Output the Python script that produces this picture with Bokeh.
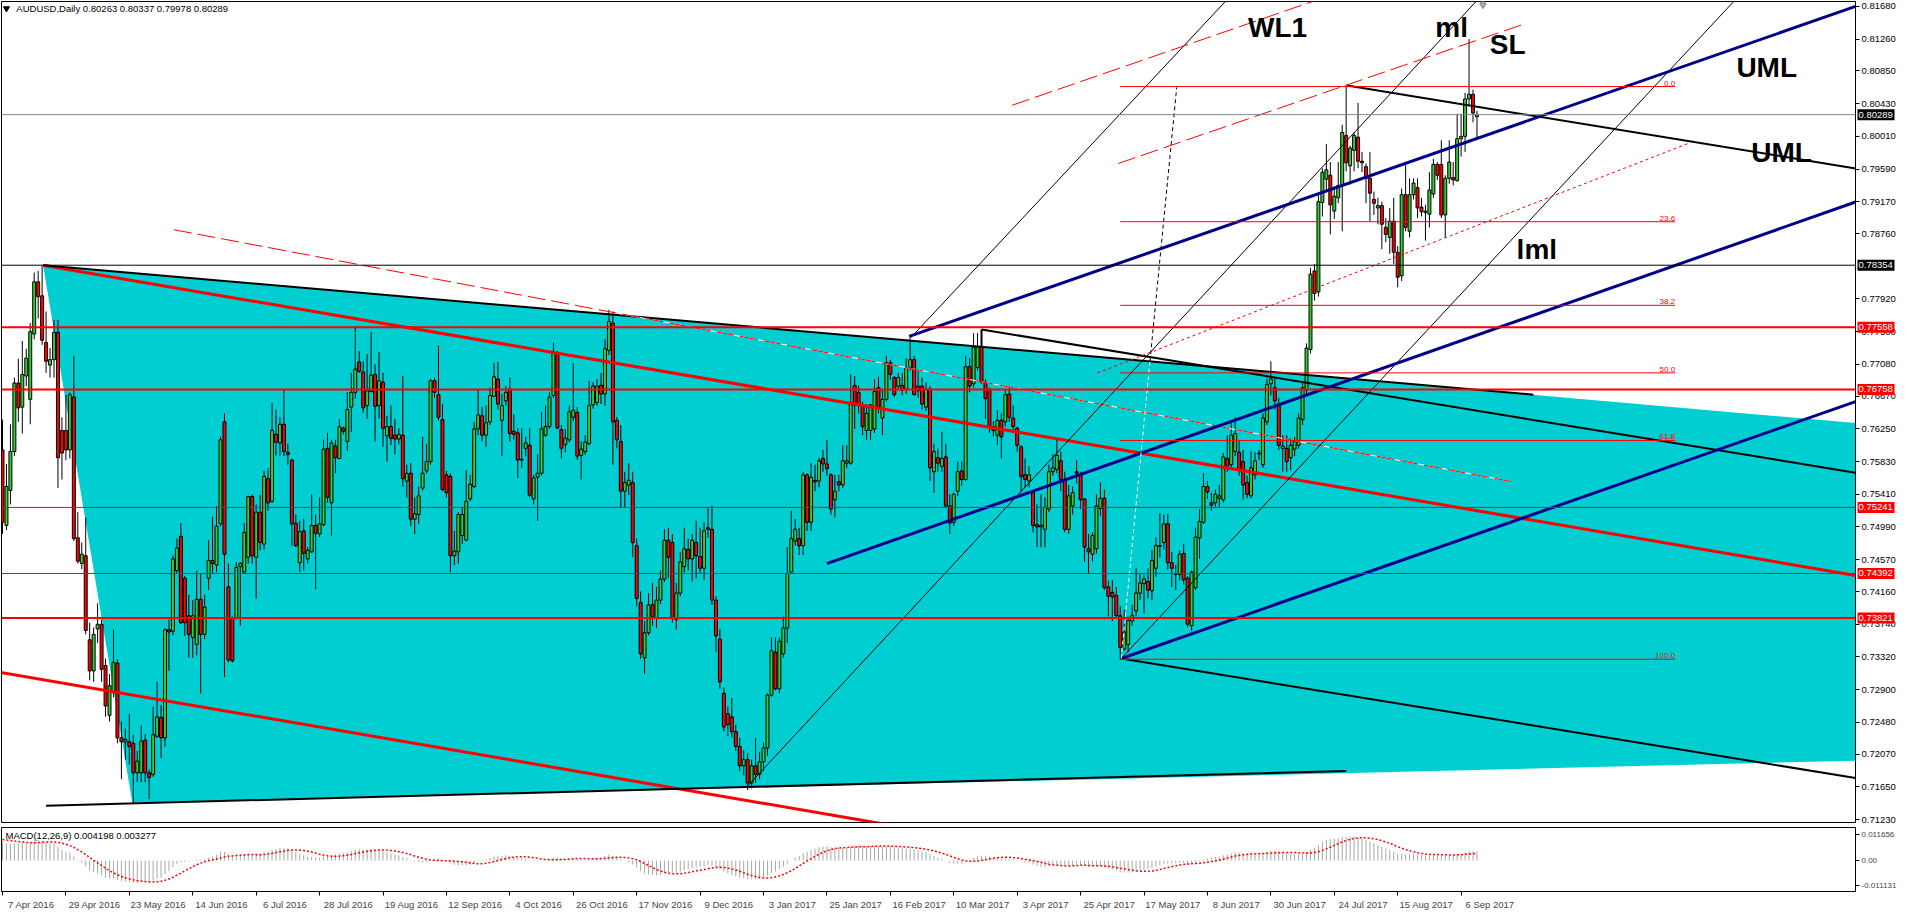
import numpy as np
from bokeh.plotting import figure
from bokeh.layouts import column, row
from bokeh.models import (ColumnDataSource, Span, Label, FixedTicker, LinearAxis,
                          Range1d, PrintfTickFormatter)
from bokeh.core.properties import value
from bokeh.embed import file_html
from bokeh.resources import INLINE

# ---------------- data ----------------
symbol = "AUDUSD,Daily"
macd_title = "MACD(12,26,9) 0.004198 0.003277"
date_labels = ["7 Apr 2016", "29 Apr 2016", "23 May 2016", "14 Jun 2016", "6 Jul 2016",
               "28 Jul 2016", "19 Aug 2016", "12 Sep 2016", "4 Oct 2016", "26 Oct 2016",
               "17 Nov 2016", "9 Dec 2016", "3 Jan 2017", "25 Jan 2017", "16 Feb 2017",
               "10 Mar 2017", "3 Apr 2017", "25 Apr 2017", "17 May 2017", "8 Jun 2017",
               "30 Jun 2017", "24 Jul 2017", "15 Aug 2017", "6 Sep 2017"]
date_label_step = 16  # bars between date labels

opens = [
 0.7598,0.7501,0.7546,0.7596,0.7684,0.7653,0.7693,0.7663,0.7747,0.7814,
 0.7796,0.7736,0.7707,0.7714,0.7749,0.7623,0.7623,0.7598,0.7666,0.7485,
 0.7452,0.7462,0.7354,0.7314,0.7368,0.7374,0.7321,0.7257,0.7286,0.7324,
 0.7228,0.7223,0.7223,0.7221,0.7183,0.7183,0.7225,0.7183,0.7181,0.7230,
 0.7254,0.7228,0.7367,0.7365,0.7443,0.7487,0.7433,0.7385,0.7357,0.7348,
 0.7406,0.7361,0.7433,0.7456,0.7450,0.7503,0.7634,0.7422,0.7382,0.7382,
 0.7448,0.7441,0.7460,0.7538,0.7460,0.7518,0.7477,0.7561,0.7532,0.7618,
 0.7607,0.7631,0.7595,0.7585,0.7504,0.7453,0.7494,0.7458,0.7467,0.7501,
 0.7490,0.7502,0.7600,0.7530,0.7603,0.7587,0.7626,0.7609,0.7653,0.7672,
 0.7711,0.7698,0.7655,0.7673,0.7695,0.7655,0.7685,0.7616,0.7628,0.7617,
 0.7612,0.7617,0.7558,0.7568,0.7509,0.7515,0.7549,0.7571,0.7583,0.7687,
 0.7669,0.7637,0.7566,0.7564,0.7462,0.7467,0.7488,0.7482,0.7535,0.7551,
 0.7625,0.7642,0.7617,0.7634,0.7667,0.7689,0.7636,0.7661,0.7676,0.7622,
 0.7620,0.7586,0.7600,0.7604,0.7535,0.7563,0.7568,0.7617,0.7628,0.7668,
 0.7722,0.7624,0.7605,0.7611,0.7640,0.7646,0.7591,0.7596,0.7606,0.7656,
 0.7659,0.7681,0.7670,0.7726,0.7761,0.7636,0.7609,0.7545,0.7553,0.7556,
 0.7475,0.7402,0.7331,0.7363,0.7399,0.7382,0.7405,0.7432,0.7482,0.7479,
 0.7380,0.7414,0.7448,0.7470,0.7458,0.7479,0.7461,0.7446,0.7498,0.7496,
 0.7405,0.7355,0.7285,0.7259,0.7255,0.7236,0.7217,0.7192,0.7200,0.7170,
 0.7192,0.7181,0.7197,0.7215,0.7283,0.7338,0.7291,0.7336,0.7369,0.7441,
 0.7481,0.7484,0.7475,0.7566,0.7505,0.7559,0.7558,0.7587,0.7580,0.7566,
 0.7534,0.7557,0.7553,0.7581,0.7581,0.7681,0.7672,0.7656,0.7623,0.7623,
 0.7625,0.7678,0.7639,0.7663,0.7710,0.7691,0.7680,0.7681,0.7676,0.7704,
 0.7714,0.7680,0.7680,0.7653,0.7676,0.7570,0.7588,0.7577,0.7589,0.7526,
 0.7505,0.7545,0.7571,0.7560,0.7705,0.7683,0.7704,0.7731,0.7685,0.7676,
 0.7628,0.7617,0.7636,0.7634,0.7670,0.7639,0.7626,0.7602,0.7566,0.7558,
 0.7543,0.7502,0.7499,0.7496,0.7522,0.7570,0.7573,0.7584,0.7560,0.7496,
 0.7526,0.7570,0.7567,0.7535,0.7471,0.7464,0.7471,0.7523,0.7536,0.7422,
 0.7415,0.7411,0.7385,0.7342,0.7348,0.7378,0.7391,0.7414,0.7426,0.7429,
 0.7417,0.7446,0.7474,0.7479,0.7503,0.7453,0.7439,0.7438,0.7465,0.7433,
 0.7372,0.7421,0.7485,0.7505,0.7551,0.7530,0.7530,0.7536,0.7534,0.7587,
 0.7579,0.7596,0.7595,0.7583,0.7556,0.7539,0.7566,0.7594,0.7579,0.7634,
 0.7683,0.7678,0.7657,0.7600,0.7600,0.7588,0.7599,0.7604,0.7637,0.7675,
 0.7727,0.7828,0.7801,0.7916,0.7946,0.7951,0.7905,0.7922,0.7939,0.8002,
 0.7963,0.7983,0.8000,0.7969,0.7962,0.7947,0.7920,0.7909,0.7912,0.7884,
 0.7871,0.7892,0.7852,0.7822,0.7926,0.7879,0.7926,0.7935,0.7910,0.7903,
 0.7901,0.7927,0.7965,0.7965,0.7900,0.7947,0.7948,0.7944,0.7998,0.8001,
 0.8049,0.8055,0.80263]
highs = [
 0.7637,0.7580,0.7631,0.7691,0.7715,0.7738,0.7728,0.7761,0.7826,0.7828,
 0.7835,0.7776,0.7729,0.7765,0.7765,0.7640,0.7669,0.7672,0.7719,0.7518,
 0.7479,0.7511,0.7376,0.7370,0.7401,0.7380,0.7330,0.7310,0.7367,0.7329,
 0.7249,0.7240,0.7259,0.7232,0.7211,0.7244,0.7233,0.7187,0.7268,0.7300,
 0.7270,0.7369,0.7380,0.7462,0.7484,0.7504,0.7436,0.7412,0.7405,0.7443,
 0.7440,0.7412,0.7482,0.7512,0.7526,0.7615,0.7645,0.7452,0.7384,0.7454,
 0.7454,0.7504,0.7539,0.7541,0.7528,0.7540,0.7571,0.7575,0.7658,0.7650,
 0.7640,0.7676,0.7606,0.7587,0.7515,0.7507,0.7509,0.7473,0.7541,0.7515,
 0.7537,0.7611,0.7620,0.7611,0.7611,0.7638,0.7628,0.7672,0.7697,0.7757,
 0.7725,0.7712,0.7721,0.7750,0.7708,0.7724,0.7697,0.7642,0.7655,0.7638,
 0.7626,0.7693,0.7579,0.7581,0.7537,0.7551,0.7615,0.7606,0.7689,0.7691,
 0.7732,0.7657,0.7571,0.7568,0.7494,0.7518,0.7525,0.7572,0.7566,0.7634,
 0.7676,0.7653,0.7655,0.7678,0.7710,0.7711,0.7670,0.7680,0.7691,0.7644,
 0.7626,0.7626,0.7615,0.7626,0.7566,0.7592,0.7647,0.7655,0.7672,0.7736,
 0.7725,0.7630,0.7625,0.7655,0.7710,0.7653,0.7609,0.7617,0.7687,0.7685,
 0.7689,0.7697,0.7740,0.7778,0.7776,0.7640,0.7630,0.7570,0.7581,0.7570,
 0.7484,0.7416,0.7378,0.7414,0.7427,0.7422,0.7443,0.7496,0.7498,0.7490,
 0.7427,0.7467,0.7498,0.7484,0.7490,0.7507,0.7498,0.7505,0.7524,0.7526,
 0.7410,0.7368,0.7293,0.7268,0.7279,0.7245,0.7228,0.7212,0.7208,0.7200,
 0.7228,0.7210,0.7222,0.7285,0.7357,0.7357,0.7357,0.7384,0.7473,0.7520,
 0.7509,0.7498,0.7570,0.7568,0.7581,0.7579,0.7588,0.7598,0.7611,0.7568,
 0.7566,0.7566,0.7604,0.7604,0.7695,0.7693,0.7681,0.7660,0.7657,0.7657,
 0.7689,0.7692,0.7676,0.7719,0.7714,0.7693,0.7697,0.7697,0.7716,0.7740,
 0.7719,0.7700,0.7691,0.7685,0.7680,0.7606,0.7600,0.7621,0.7606,0.7541,
 0.7543,0.7583,0.7583,0.7719,0.7716,0.7748,0.7748,0.7752,0.7689,0.7678,
 0.7635,0.7649,0.7645,0.7676,0.7680,0.7655,0.7628,0.7604,0.7587,0.7577,
 0.7545,0.7528,0.7541,0.7537,0.7579,0.7592,0.7613,0.7596,0.7570,0.7553,
 0.7551,0.7585,0.7570,0.7536,0.7490,0.7492,0.7541,0.7556,0.7547,0.7430,
 0.7431,0.7422,0.7397,0.7393,0.7384,0.7399,0.7446,0.7439,0.7437,0.7446,
 0.7469,0.7486,0.7517,0.7515,0.7516,0.7467,0.7450,0.7469,0.7477,0.7436,
 0.7443,0.7498,0.7522,0.7568,0.7558,0.7543,0.7547,0.7553,0.7594,0.7617,
 0.7634,0.7640,0.7610,0.7598,0.7565,0.7596,0.7595,0.7598,0.7645,0.7690,
 0.7712,0.7690,0.7665,0.7617,0.7617,0.7613,0.7615,0.7645,0.7685,0.7735,
 0.7832,0.7837,0.7926,0.7960,0.7991,0.7968,0.7937,0.7968,0.8016,0.8066,
 0.7989,0.8006,0.8044,0.7981,0.7966,0.7981,0.7930,0.7922,0.7917,0.7896,
 0.7909,0.7922,0.7860,0.7934,0.7964,0.7947,0.7947,0.7947,0.7922,0.7913,
 0.7955,0.7972,0.7968,0.7996,0.7951,0.7996,0.7968,0.8030,0.8030,0.8057,
 0.8126,0.8061,0.80337]
lows = [
 0.7490,0.7495,0.7528,0.7590,0.7634,0.7619,0.7680,0.7631,0.7740,0.7767,
 0.7733,0.7697,0.7691,0.7691,0.7549,0.7560,0.7585,0.7587,0.7481,0.7452,
 0.7445,0.7361,0.7302,0.7300,0.7350,0.7300,0.7255,0.7249,0.7280,0.7221,
 0.7175,0.7200,0.7194,0.7145,0.7171,0.7171,0.7171,0.7149,0.7178,0.7228,
 0.7202,0.7217,0.7314,0.7360,0.7440,0.7374,0.7359,0.7331,0.7331,0.7334,
 0.7285,0.7355,0.7418,0.7440,0.7441,0.7500,0.7306,0.7325,0.7325,0.7380,
 0.7372,0.7439,0.7452,0.7452,0.7407,0.7469,0.7470,0.7520,0.7530,0.7591,
 0.7590,0.7590,0.7579,0.7475,0.7473,0.7441,0.7443,0.7452,0.7466,0.7419,
 0.7486,0.7500,0.7530,0.7488,0.7568,0.7586,0.7618,0.7597,0.7621,0.7664,
 0.7697,0.7646,0.7638,0.7672,0.7609,0.7638,0.7602,0.7583,0.7604,0.7592,
 0.7605,0.7551,0.7537,0.7500,0.7490,0.7503,0.7546,0.7568,0.7579,0.7665,
 0.7636,0.7545,0.7537,0.7441,0.7450,0.7452,0.7477,0.7481,0.7532,0.7549,
 0.7617,0.7609,0.7602,0.7630,0.7666,0.7650,0.7590,0.7655,0.7609,0.7611,
 0.7562,0.7575,0.7590,0.7537,0.7528,0.7507,0.7565,0.7615,0.7625,0.7665,
 0.7625,0.7587,0.7595,0.7608,0.7635,0.7585,0.7560,0.7592,0.7604,0.7651,
 0.7655,0.7657,0.7655,0.7720,0.7579,0.7600,0.7524,0.7524,0.7540,0.7460,
 0.7397,0.7329,0.7310,0.7360,0.7372,0.7369,0.7400,0.7428,0.7433,0.7376,
 0.7367,0.7410,0.7441,0.7443,0.7429,0.7433,0.7439,0.7431,0.7485,0.7399,
 0.7338,0.7291,0.7236,0.7230,0.7228,0.7211,0.7185,0.7180,0.7161,0.7163,
 0.7170,0.7175,0.7185,0.7205,0.7281,0.7289,0.7285,0.7331,0.7350,0.7439,
 0.7475,0.7463,0.7463,0.7494,0.7494,0.7545,0.7550,0.7570,0.7565,0.7515,
 0.7511,0.7545,0.7549,0.7575,0.7579,0.7625,0.7645,0.7617,0.7611,0.7611,
 0.7620,0.7645,0.7617,0.7660,0.7688,0.7666,0.7675,0.7668,0.7670,0.7700,
 0.7668,0.7665,0.7650,0.7648,0.7558,0.7543,0.7570,0.7570,0.7524,0.7490,
 0.7500,0.7539,0.7552,0.7558,0.7672,0.7678,0.7700,0.7683,0.7638,0.7620,
 0.7615,0.7604,0.7587,0.7628,0.7634,0.7620,0.7596,0.7545,0.7550,0.7550,
 0.7492,0.7473,0.7473,0.7473,0.7518,0.7565,0.7568,0.7545,0.7492,0.7490,
 0.7515,0.7555,0.7522,0.7454,0.7439,0.7455,0.7465,0.7513,0.7418,0.7384,
 0.7378,0.7382,0.7329,0.7340,0.7338,0.7372,0.7384,0.7405,0.7388,0.7407,
 0.7405,0.7435,0.7460,0.7470,0.7444,0.7422,0.7418,0.7430,0.7425,0.7370,
 0.7365,0.7418,0.7458,0.7503,0.7535,0.7520,0.7525,0.7524,0.7530,0.7570,
 0.7575,0.7590,0.7565,0.7534,0.7536,0.7536,0.7560,0.7585,0.7575,0.7630,
 0.7668,0.7650,0.7598,0.7570,0.7570,0.7572,0.7590,0.7600,0.7630,0.7670,
 0.7722,0.7790,0.7795,0.7898,0.7930,0.7875,0.7895,0.7915,0.7879,0.7956,
 0.7939,0.7956,0.7960,0.7955,0.7915,0.7892,0.7900,0.7888,0.7856,0.7865,
 0.7850,0.7837,0.7807,0.7815,0.7879,0.7871,0.7920,0.7896,0.7898,0.7867,
 0.7884,0.7922,0.7945,0.7896,0.7871,0.7940,0.7938,0.7943,0.7975,0.7981,
 0.8040,0.8019,0.79978]
closes = [
 0.7505,0.7551,0.7596,0.7684,0.7652,0.7695,0.7716,0.7750,0.7814,0.7795,
 0.7739,0.7712,0.7714,0.7749,0.7588,0.7594,0.7598,0.7669,0.7484,0.7455,
 0.7464,0.7366,0.7314,0.7361,0.7374,0.7316,0.7269,0.7295,0.7325,0.7228,
 0.7223,0.7226,0.7217,0.7183,0.7198,0.7224,0.7183,0.7177,0.7232,0.7255,
 0.7228,0.7367,0.7364,0.7458,0.7472,0.7376,0.7376,0.7361,0.7385,0.7406,
 0.7361,0.7396,0.7456,0.7452,0.7500,0.7611,0.7464,0.7328,0.7327,0.7447,
 0.7452,0.7492,0.7538,0.7462,0.7518,0.7479,0.7564,0.7530,0.7623,0.7608,
 0.7631,0.7596,0.7592,0.7503,0.7475,0.7493,0.7465,0.7469,0.7501,0.7491,
 0.7503,0.7599,0.7537,0.7607,0.7588,0.7628,0.7622,0.7650,0.7672,0.7702,
 0.7699,0.7652,0.7674,0.7694,0.7654,0.7687,0.7626,0.7628,0.7613,0.7612,
 0.7618,0.7561,0.7568,0.7509,0.7516,0.7539,0.7568,0.7583,0.7687,0.7672,
 0.7640,0.7547,0.7543,0.7462,0.7468,0.7515,0.7515,0.7532,0.7554,0.7625,
 0.7643,0.7617,0.7633,0.7668,0.7692,0.7657,0.7655,0.7672,0.7619,0.7618,
 0.7585,0.7585,0.7607,0.7540,0.7562,0.7568,0.7625,0.7628,0.7666,0.7723,
 0.7626,0.7600,0.7613,0.7647,0.7649,0.7590,0.7599,0.7608,0.7655,0.7680,
 0.7680,0.7670,0.7728,0.7763,0.7634,0.7611,0.7545,0.7556,0.7559,0.7479,
 0.7407,0.7336,0.7363,0.7399,0.7384,0.7405,0.7432,0.7482,0.7460,0.7382,
 0.7414,0.7454,0.7471,0.7458,0.7482,0.7462,0.7446,0.7494,0.7496,0.7405,
 0.7359,0.7300,0.7242,0.7245,0.7236,0.7217,0.7192,0.7200,0.7170,0.7192,
 0.7181,0.7197,0.7215,0.7283,0.7340,0.7291,0.7352,0.7369,0.7439,0.7484,
 0.7496,0.7475,0.7566,0.7505,0.7563,0.7557,0.7584,0.7580,0.7574,0.7522,
 0.7545,0.7553,0.7584,0.7584,0.7659,0.7655,0.7655,0.7628,0.7645,0.7656,
 0.7673,0.7653,0.7663,0.7710,0.7695,0.7669,0.7691,0.7675,0.7704,0.7714,
 0.7669,0.7674,0.7657,0.7676,0.7575,0.7596,0.7581,0.7587,0.7526,0.7504,
 0.7541,0.7570,0.7560,0.7705,0.7680,0.7730,0.7730,0.7685,0.7664,0.7628,
 0.7623,0.7636,0.7615,0.7669,0.7640,0.7628,0.7604,0.7564,0.7560,0.7566,
 0.7501,0.7499,0.7501,0.7524,0.7570,0.7575,0.7591,0.7560,0.7496,0.7539,
 0.7543,0.7568,0.7534,0.7473,0.7467,0.7488,0.7526,0.7536,0.7421,0.7410,
 0.7409,0.7385,0.7344,0.7364,0.7379,0.7385,0.7414,0.7427,0.7432,0.7418,
 0.7456,0.7475,0.7475,0.7503,0.7453,0.7446,0.7438,0.7464,0.7431,0.7374,
 0.7441,0.7486,0.7506,0.7551,0.7544,0.7527,0.7541,0.7539,0.7589,0.7577,
 0.7617,0.7619,0.7573,0.7553,0.7541,0.7575,0.7584,0.7593,0.7639,0.7682,
 0.7689,0.7661,0.7604,0.7603,0.7583,0.7604,0.7609,0.7639,0.7678,0.7729,
 0.7824,0.7799,0.7917,0.7955,0.7958,0.7913,0.7924,0.7938,0.8006,0.7967,
 0.7986,0.8002,0.7969,0.7967,0.7947,0.7928,0.7915,0.7912,0.7888,0.7875,
 0.7892,0.7852,0.7820,0.7926,0.7884,0.7926,0.7941,0.7909,0.7904,0.7905,
 0.7932,0.7965,0.7951,0.7900,0.7947,0.7968,0.7945,0.7998,0.8001,0.8049,
 0.8055,0.8031,0.80289]

# MACD warm-up state before the first visible bar
macd_ema_seed = (0.7592, 0.7492)   # EMA12, EMA26
macd_signal_seed = 0.0095

# right price scale ticks
price_ticks = [0.81680, 0.81260, 0.80850, 0.80430, 0.80010, 0.79590, 0.79170, 0.78760,
               0.77920, 0.77500, 0.77080, 0.76670, 0.76250, 0.75830, 0.75410, 0.74990,
               0.74570, 0.74160, 0.73740, 0.73320, 0.72900, 0.72480, 0.72070, 0.71650, 0.71230]
macd_ticks = [0.011656, 0.0, -0.011131]
macd_tick_text = ["0.011656", "0.00", "-0.011131"]

# horizontal lines (price, colour, width)
hline_prices = [0.80289, 0.78354, 0.77558, 0.76758, 0.75241, 0.74392, 0.73821]
hline_colors = ["#778899", "black", "red", "red", "red", "red", "red"]
hline_widths = [1, 1, 2, 2, 1, 1, 2]
hline_tag_colors = ["black", "black", "red", "red", "red", "red", "red"]

# drawn objects, in (bar index, price)
triangle = [(10.25, 0.78354), (1231.75, 0.72938), (32.75, 0.71446)]
black_top_line = [(10.25, 0.78354), (386.25, 0.76690)]
black_bottom_line = [(11.0, 0.71408), (339.0, 0.71853)]
red_thick_upper = [(10.25, 0.78354), (467.5, 0.74366)]
red_thick_lower = [(-0.5, 0.73122), (224.5, 0.71154)]
red_dash_long = [(43.25, 0.78810), (380.75, 0.75573)]
blue_upper = [(228.75, 0.77439), (467.5, 0.81680)]
blue_middle = [(208.0, 0.74519), (467.5, 0.79166)]
blue_lower = [(282.25, 0.73300), (467.5, 0.76601)]
black_a = [(339.25, 0.80664), (467.5, 0.79598)]
black_b = [(282.25, 0.73300), (467.5, 0.71764)]
black_c = [(247.0, 0.77528), (467.5, 0.75687)]
black_c_tick = [(247.0, 0.77528), (247.0, 0.77310)]
thin_1 = [(228.75, 0.77401), (308.75, 0.81756)]
thin_2 = [(188.0, 0.71662), (372.0, 0.81756)]
thin_3 = [(282.25, 0.73300), (437.0, 0.81756)]
dotted_connector = [(282.25, 0.73300), (289.5, 0.77122), (296.25, 0.80639)]
red_dash_a = [(254.75, 0.80410), (331.25, 0.81756)]
red_dash_b = [(281.5, 0.79661), (384.5, 0.81464)]
red_dot_c = [(276.25, 0.76969), (425.75, 0.79928)]
ml_marker = (373.5, 0.8171)

fib_high, fib_low = 0.8065, 0.7329
fib_span = (282.0, 422.0)
fib_ratios = [0.0, 23.6, 38.2, 50.0, 61.8, 100.0]
fib_texts = ["0.0", "23.6", "38.2", "50.0", "61.8", "100.0"]

# text annotations: (text, bar index, price, align)
big_texts = [("WL1", 314.25, 0.81413, "left"), ("ml", 361.5, 0.81413, "left"),
             ("SL", 375.25, 0.81185, "left"), ("UML", 452.75, 0.80893, "right"),
             ("UML", 456.5, 0.79801, "right"), ("lml", 382.0, 0.78556, "left")]

# ---------------- derived ----------------
n = len(closes)
idx = list(range(n))
o = np.array(opens); c = np.array(closes)
h = np.maximum(np.array(highs), np.maximum(o, c))
l = np.minimum(np.array(lows), np.minimum(o, c))
colors = ["#32CD32" if cc >= oo else "#FF0000" for oo, cc in zip(opens, closes)]
src = ColumnDataSource(dict(x=idx, o=o, h=h, l=l, c=c,
                            top=np.maximum(o, c), bot=np.minimum(o, c), color=colors))

def ema(vals, period, seed):
    k = 2.0 / (period + 1); e = seed; out = []
    for v in vals:
        e = e + k * (v - e); out.append(e)
    return np.array(out)

macd = ema(closes, 12, macd_ema_seed[0]) - ema(closes, 26, macd_ema_seed[1])
signal = []
for t in range(n):
    w = list(macd[max(0, t - 8):t + 1])
    signal.append((sum(w) + (9 - len(w)) * macd_signal_seed) / 9.0)

FONT = "Liberation Sans"
XR = Range1d(-0.25, 467.5)
Y_TOP, Y_BOT = 0.81743, 0.71192
YR = Range1d(Y_BOT, Y_TOP)
FRAME_W, FRAME_H = 1854, 821
AXIS_W = 46
MAIN_BOTTOM = 4

# ---------------- main price panel ----------------
p = figure(frame_width=FRAME_W, frame_height=FRAME_H, x_range=XR, y_range=YR,
           output_backend="svg", toolbar_location=None,
           x_axis_location=None, y_axis_location="right",
           min_border_left=1, min_border_top=1, min_border_bottom=MAIN_BOTTOM,
           min_border_right=AXIS_W,
           background_fill_color="white", border_fill_color="white",
           outline_line_color="black")
p.grid.visible = False
ya = p.yaxis[0]
ya.ticker = FixedTicker(ticks=price_ticks)
ya.formatter = PrintfTickFormatter(format="%.5f")
ya.major_label_text_font = FONT
ya.major_label_text_font_size = "9.5px"
ya.major_label_text_color = "black"
ya.major_tick_out = 4
ya.major_tick_in = 0
ya.minor_tick_line_color = None
ya.major_label_standoff = 2
ya.axis_line_color = "black"

def xs(pts): return [q[0] for q in pts]
def ys(pts): return [q[1] for q in pts]

# cyan triangle (background)
p.patch(xs(triangle), ys(triangle), fill_color="#00CED1", line_color=None)

# candles
p.segment(x0="x", y0="l", x1="x", y1="h", source=src, line_color="black", line_width=1)
p.vbar(x="x", width=0.75, top="top", bottom="bot", source=src,
       fill_color="color", line_color="black", line_width=1)

# horizontal lines
for pr, col, wd in zip(hline_prices, hline_colors, hline_widths):
    p.add_layout(Span(location=pr, dimension="width", line_color=col, line_width=wd))

# trend lines
p.line(xs(red_thick_upper), ys(red_thick_upper), line_color="red", line_width=3)
p.line(xs(red_thick_lower), ys(red_thick_lower), line_color="red", line_width=3)
p.line(xs(black_top_line), ys(black_top_line), line_color="black", line_width=2)
p.line(xs(black_bottom_line), ys(black_bottom_line), line_color="black", line_width=2)
p.line(xs(red_dash_long), ys(red_dash_long), line_color="white", line_width=1)
p.line(xs(red_dash_long), ys(red_dash_long), line_color="red", line_width=1, line_dash="18 6")
for ln in (thin_1, thin_2, thin_3):
    p.line(xs(ln), ys(ln), line_color="black", line_width=1)
for ln in (black_a, black_b, black_c, black_c_tick):
    p.line(xs(ln), ys(ln), line_color="black", line_width=2)
for ln in (blue_upper, blue_middle, blue_lower):
    p.line(xs(ln), ys(ln), line_color="#00008B", line_width=3)
p.line(xs(dotted_connector[:2]), ys(dotted_connector[:2]), line_color="white",
       line_width=1, line_dash="4 3")
p.line(xs(dotted_connector[1:]), ys(dotted_connector[1:]), line_color="black",
       line_width=1, line_dash="4 3")
for ln in (red_dash_a, red_dash_b):
    p.line(xs(ln), ys(ln), line_color="red", line_width=1, line_dash="18 6")
p.line(xs(red_dot_c), ys(red_dot_c), line_color="red", line_width=1, line_dash="3 3")
p.scatter([ml_marker[0]], [ml_marker[1]], marker="diamond", size=9,
          fill_color="#A9A9A9", line_color="#808080")

# fibonacci retracement
fib_levels = [fib_high - r / 100.0 * (fib_high - fib_low) for r in fib_ratios]
p.segment(x0=[fib_span[0]] * len(fib_levels), y0=fib_levels,
          x1=[fib_span[1]] * len(fib_levels), y1=fib_levels, line_color="red", line_width=1)
p.text(x=[fib_span[1]] * len(fib_levels), y=fib_levels, text=fib_texts,
       text_align="right", text_baseline="bottom", text_font=value(FONT),
       text_font_size="8px", text_color="red", y_offset=-1)

# big black annotations
for t, bx, by, al in big_texts:
    p.add_layout(Label(x=bx, y=by, text=t, text_align=al, text_baseline="alphabetic",
                       text_font=FONT, text_font_style="bold", text_font_size="28px",
                       text_color="black"))

# header
px_per_price = FRAME_H / (Y_TOP - Y_BOT)
hdr_y = Y_TOP - 7 / px_per_price
p.scatter([1.0], [hdr_y], marker="inverted_triangle", size=6,
          fill_color="black", line_color="black")
header = f"{symbol}  {opens[-1]:.5f} {highs[-1]:.5f} {lows[-1]:.5f} {closes[-1]:.5f}"
p.add_layout(Label(x=3.5, y=hdr_y, text=header, text_baseline="middle",
                   text_font=FONT, text_font_size="9.5px", text_color="black"))

# ---------------- price tags over the scale (transparent strip laid over the axis) ----
tags = figure(frame_width=AXIS_W, frame_height=FRAME_H, x_range=Range1d(0, AXIS_W),
              y_range=YR, output_backend="svg", toolbar_location=None,
              x_axis_location=None, y_axis_location=None,
              min_border_left=0, min_border_right=0, min_border_top=1,
              min_border_bottom=MAIN_BOTTOM,
              background_fill_alpha=0, border_fill_alpha=0, outline_line_color=None,
              margin=(0, 0, 0, -AXIS_W))
tags.grid.visible = False
tags.rect(x=[20.5] * len(hline_prices), y=hline_prices, width=37, height=11,
          height_units="screen", fill_color=hline_tag_colors, line_color=None)
tags.text(x=[3.0] * len(hline_prices), y=hline_prices,
          text=[f"{v:.5f}" for v in hline_prices], text_align="left",
          text_baseline="middle", text_font=value(FONT), text_font_size="9.5px",
          text_color="white")

# ---------------- MACD panel ----------------
m = figure(frame_width=FRAME_W, frame_height=64, x_range=XR,
           y_range=Range1d(-0.01381, 0.01478), output_backend="svg", toolbar_location=None,
           x_axis_location=None, y_axis_location="right",
           min_border_left=1, min_border_top=1, min_border_bottom=0, min_border_right=AXIS_W,
           background_fill_color="white", border_fill_color="white",
           outline_line_color="black")
m.grid.visible = False
my = m.yaxis[0]
my.ticker = FixedTicker(ticks=macd_ticks)
my.major_label_overrides = {t: s for t, s in zip(macd_ticks, macd_tick_text)}
my.major_label_text_font = FONT
my.major_label_text_font_size = "8px"
my.major_tick_out = 4
my.major_tick_in = 0
my.minor_tick_line_color = None
my.major_label_standoff = 2

m.segment(x0=idx, y0=[0.0] * n, x1=idx, y1=list(macd), line_color="#A8A8A8", line_width=1)
m.line(idx, signal, line_color="red", line_width=1.5, line_dash="2 2")
m.add_layout(Label(x=0.75, y=0.0112, text=macd_title, text_baseline="middle",
                   text_font=FONT, text_font_size="9.5px", text_color="black"))

date_ticks = [k * date_label_step for k in range(len(date_labels))]
label_pos = [t + 7.25 for t in date_ticks]
date_axis = LinearAxis(ticker=FixedTicker(ticks=label_pos, minor_ticks=date_ticks),
                       major_label_overrides={pp: s for pp, s in zip(label_pos, date_labels)},
                       major_tick_line_color=None, minor_tick_line_color="black",
                       minor_tick_in=0, minor_tick_out=4,
                       axis_line_color="black", major_label_standoff=1,
                       major_label_text_font=FONT, major_label_text_font_size="9.5px")
m.add_layout(date_axis, "below")

layout = column(row(p, tags), m)
open("out.html", "w").write(file_html(layout, INLINE, title="AUDUSD,Daily"))
